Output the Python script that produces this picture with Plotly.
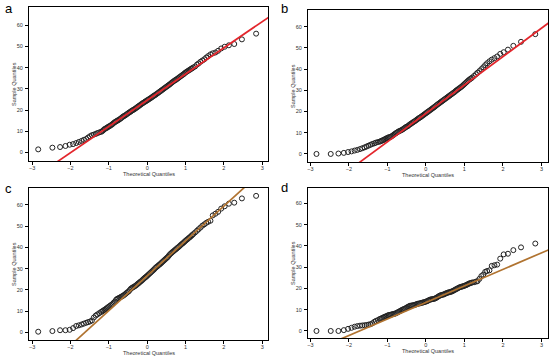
import plotly.graph_objects as go

# Theoretical quantiles (shared by all four panels)
theoretical_q = [
    -2.84, -2.47, -2.27, -2.13, -2.02, -1.93, -1.85, -1.78, -1.71, -1.65, -1.59, -1.54, -1.49, -1.44, -1.39, -1.34, -1.30, -1.25,
    -1.20, -1.17, -1.14, -1.11, -1.08, -1.05, -1.02, -0.99, -0.96, -0.93, -0.90, -0.87, -0.84, -0.81, -0.78, -0.75, -0.72, -0.69, -0.66, -0.63,
    -0.60, -0.57, -0.54, -0.51, -0.48, -0.45, -0.42, -0.39, -0.36, -0.33, -0.30, -0.27, -0.24, -0.21, -0.18, -0.15, -0.12, -0.09, -0.06, -0.03,
    0.00, 0.03, 0.06, 0.09, 0.12, 0.15, 0.18, 0.21, 0.24, 0.27, 0.30, 0.33, 0.36, 0.39, 0.42, 0.45, 0.48, 0.51, 0.54, 0.57,
    0.60, 0.63, 0.66, 0.69, 0.72, 0.75, 0.78, 0.81, 0.84, 0.87, 0.90, 0.93, 0.96, 0.99, 1.02, 1.05, 1.08, 1.11, 1.14, 1.17, 1.20,
    1.25, 1.30, 1.34, 1.39, 1.44, 1.49, 1.54, 1.59, 1.65, 1.71, 1.78, 1.85, 1.93, 2.02, 2.13, 2.27, 2.47, 2.84,
]

sample_a = [
    1.4, 2.2, 2.5, 3.0, 3.6, 3.9, 4.4, 4.9, 5.4, 5.9, 6.3, 7.0, 7.6, 8.1, 8.4, 8.7, 9.1, 9.4,
    9.7, 10.0, 10.5, 11.0, 11.3, 11.6, 12.0, 12.3, 12.6, 13.0, 13.4, 13.9, 14.3, 14.6, 15.0, 15.2, 15.6, 16.0, 16.4, 16.9,
    17.2, 17.5, 17.9, 18.3, 18.7, 19.0, 19.4, 19.8, 20.1, 20.4, 20.8, 21.2, 21.6, 22.0, 22.4, 22.8, 23.2, 23.5, 23.9, 24.2,
    24.6, 24.9, 25.3, 25.6, 26.0, 26.4, 26.8, 27.1, 27.5, 27.9, 28.3, 28.7, 29.1, 29.5, 29.9, 30.3, 30.7, 31.1, 31.5, 31.9,
    32.3, 32.8, 33.2, 33.6, 34.0, 34.3, 34.7, 35.1, 35.5, 35.9, 36.3, 36.7, 37.1, 37.6, 38.0, 38.3, 38.7, 39.0, 39.4, 39.7, 40.1,
    40.6, 41.5, 42.0, 42.8, 43.4, 44.0, 44.8, 45.5, 46.3, 46.8, 47.2, 48.0, 49.1, 49.9, 50.6, 51.2, 53.4, 56.1,
]

sample_b = [
    0.0, 0.0, 0.2, 0.5, 0.9, 1.2, 1.6, 1.9, 2.3, 2.7, 3.1, 3.5, 3.9, 4.3, 4.7, 5.0, 5.3, 5.6,
    5.8, 6.0, 6.3, 6.5, 6.8, 7.1, 7.4, 7.6, 7.9, 8.0, 8.2, 8.6, 9.0, 9.4, 9.8, 10.1, 10.5, 10.8, 11.0, 11.3,
    11.6, 12.0, 12.4, 12.8, 13.0, 13.4, 13.9, 14.2, 14.6, 15.0, 15.3, 15.7, 16.1, 16.5, 16.9, 17.2, 17.6, 18.0, 18.4, 18.8,
    19.2, 19.6, 20.0, 20.4, 20.8, 21.2, 21.6, 22.0, 22.4, 22.9, 23.3, 23.7, 24.1, 24.5, 24.9, 25.3, 25.7, 26.1, 26.5, 26.9,
    27.3, 27.7, 28.1, 28.5, 28.9, 29.3, 29.8, 30.2, 30.6, 31.0, 31.4, 31.8, 32.3, 32.8, 33.3, 33.8, 34.3, 34.8, 35.2, 35.6, 36.0,
    36.8, 37.6, 38.3, 39.1, 40.0, 40.9, 41.9, 42.8, 43.7, 44.5, 45.2, 46.0, 47.2, 48.0, 49.2, 51.0, 52.9, 56.5,
]

sample_c = [
    0.3, 0.6, 1.0, 1.0, 1.2, 2.0, 3.0, 3.3, 3.7, 4.1, 4.5, 4.8, 5.1, 5.6, 7.0, 7.9, 8.4, 9.0,
    9.6, 9.9, 10.3, 10.6, 11.0, 11.4, 11.8, 12.2, 12.6, 13.0, 13.4, 14.0, 14.5, 15.3, 15.8, 16.0, 16.3, 16.6, 16.9, 17.2,
    17.6, 18.0, 18.5, 18.9, 19.3, 20.0, 20.6, 21.0, 21.3, 21.6, 22.0, 22.4, 22.9, 23.3, 23.8, 24.2, 24.7, 25.2, 25.7, 26.1,
    26.6, 27.1, 27.6, 28.1, 28.6, 29.1, 29.6, 30.2, 30.7, 31.1, 31.6, 32.0, 32.5, 33.0, 33.5, 34.0, 34.5, 35.0, 35.5, 36.2,
    36.8, 37.3, 37.8, 38.2, 38.7, 39.1, 39.6, 40.0, 40.5, 41.0, 41.5, 41.9, 42.4, 42.9, 43.4, 43.8, 44.3, 44.7, 45.2, 45.7, 46.2,
    47.0, 47.8, 48.5, 49.3, 50.2, 50.8, 51.5, 52.0, 52.5, 55.0, 55.8, 56.7, 58.2, 59.3, 60.5, 61.0, 63.0, 64.2,
]

sample_d = [
    0.0, 0.0, 0.0, 0.4, 1.0, 1.5, 2.0, 2.3, 2.5, 2.6, 2.7, 2.8, 3.0, 3.2, 3.6, 4.3, 4.7, 5.1,
    5.6, 5.8, 6.0, 6.3, 6.6, 6.8, 7.0, 7.3, 7.5, 7.6, 7.7, 7.9, 8.0, 8.1, 8.3, 8.6, 8.9, 9.2, 9.5, 9.8,
    10.1, 10.3, 10.5, 10.9, 11.2, 11.5, 11.8, 11.9, 12.0, 12.1, 12.2, 12.4, 12.6, 12.8, 12.9, 13.0, 13.2, 13.3, 13.5, 13.6,
    13.8, 14.0, 14.3, 14.6, 14.8, 14.9, 15.0, 15.1, 15.3, 15.6, 15.9, 16.3, 16.6, 16.8, 17.0, 17.1, 17.3, 17.6, 17.8, 18.0,
    18.2, 18.3, 18.5, 18.7, 19.0, 19.3, 19.6, 19.9, 20.2, 20.5, 20.7, 20.8, 21.0, 21.2, 21.4, 21.6, 21.9, 22.2, 22.4, 22.6, 22.8,
    22.9, 23.2, 23.4, 24.5, 25.8, 26.5, 27.8, 28.2, 28.5, 30.6, 30.9, 31.2, 34.0, 36.0, 36.3, 38.0, 39.3, 41.1,
]

# Reference lines (end points, clipped by the axes)
ref_line_x = [-3.5, 3.5]
ref_line_a = [-18.8, 68.0]
ref_line_b = [-27.8, 66.0]
ref_line_c = [-30.8, 84.0]
ref_line_d = [-13.8, 40.6]

panel_labels = ["a", "b", "c", "d"]
x_ticks = [-3, -2, -1, 0, 1, 2, 3]
x_tick_text = ["\u22123", "\u22122", "\u22121", "0", "1", "2", "3"]
y_ticks = [0, 10, 20, 30, 40, 50, 60]

W, H = 550, 357
# panel frames in pixels: (x0, x1, ytop, ybottom)
frames = [(29, 268, 7, 161), (308, 548, 10, 162), (29, 268, 188, 340), (308, 548, 188, 338)]
label_pos = [(3, 8.5), (279, 8.5), (3, 188.5), (279, 187.5)]
samples = [sample_a, sample_b, sample_c, sample_d]
lines = [ref_line_a, ref_line_b, ref_line_c, ref_line_d]
line_colors = ["#e3262c", "#e3262c", "#b07330", "#b07330"]
x_ranges = [[-3.08, 3.15], [-3.06, 3.17], [-3.08, 3.15], [-3.06, 3.17]]
y_ranges = [[-4.1, 68.7], [-3.8, 67.9], [-3.6, 67.9], [-3.3, 67.2]]

fig = go.Figure()
font_family = "Liberation Sans, Arial, sans-serif"
layout = dict(
    width=W, height=H, margin=dict(l=0, r=0, t=0, b=0),
    paper_bgcolor="white", plot_bgcolor="white", showlegend=False,
    font=dict(family=font_family, size=5.5, color="#333333"),
)
annotations = []
for i, (x0, x1, yt, yb) in enumerate(frames):
    n = "" if i == 0 else str(i + 1)
    xa, ya = "x" + n, "y" + n
    fig.add_trace(go.Scatter(
        x=theoretical_q, y=samples[i], mode="markers", xaxis=xa, yaxis=ya,
        marker=dict(symbol="circle-open", size=5, color="#222222", line=dict(width=1, color="#222222")),
    ))
    fig.add_trace(go.Scatter(
        x=ref_line_x, y=lines[i], mode="lines", xaxis=xa, yaxis=ya,
        line=dict(color=line_colors[i], width=1.7),
    ))
    common = dict(showgrid=False, zeroline=False, showline=True, linecolor="black", linewidth=1,
                  mirror=True, ticks="outside", ticklen=3, tickwidth=1, tickcolor="black",
                  tickfont=dict(size=5.5, color="#333333"))
    layout["xaxis" + n] = dict(domain=[x0 / W, x1 / W], range=x_ranges[i], tickvals=x_ticks,
                               ticktext=x_tick_text, anchor=ya, ticklabelstandoff=-2, **common)
    layout["yaxis" + n] = dict(domain=[1 - yb / H, 1 - yt / H], range=y_ranges[i], tickvals=y_ticks,
                               anchor=xa, ticklabelstandoff=1, **common)
    annotations.append(dict(text="Theoretical Quantiles", xref="paper", yref="paper",
                            x=(x0 + x1) / 2 / W, y=1 - (yb + 13) / H, xanchor="center", yanchor="middle",
                            showarrow=False, font=dict(size=5.5, color="#333333")))
    annotations.append(dict(text="Sample Quantiles", xref="paper", yref="paper",
                            x=(x0 - 15) / W, y=1 - (yt + yb) / 2 / H, xanchor="center", yanchor="middle",
                            textangle=-90, showarrow=False, font=dict(size=5.5, color="#333333")))
    lx, ly = label_pos[i]
    annotations.append(dict(text=panel_labels[i], xref="paper", yref="paper",
                            x=lx / W, y=1 - ly / H, xanchor="left", yanchor="middle",
                            showarrow=False, font=dict(size=13, color="black")))
layout["annotations"] = annotations
fig.update_layout(**layout)
fig.write_html("out.html", config={"displayModeBar": False},
               post_script="document.body.style.margin='0px';document.body.style.overflow='hidden';")
